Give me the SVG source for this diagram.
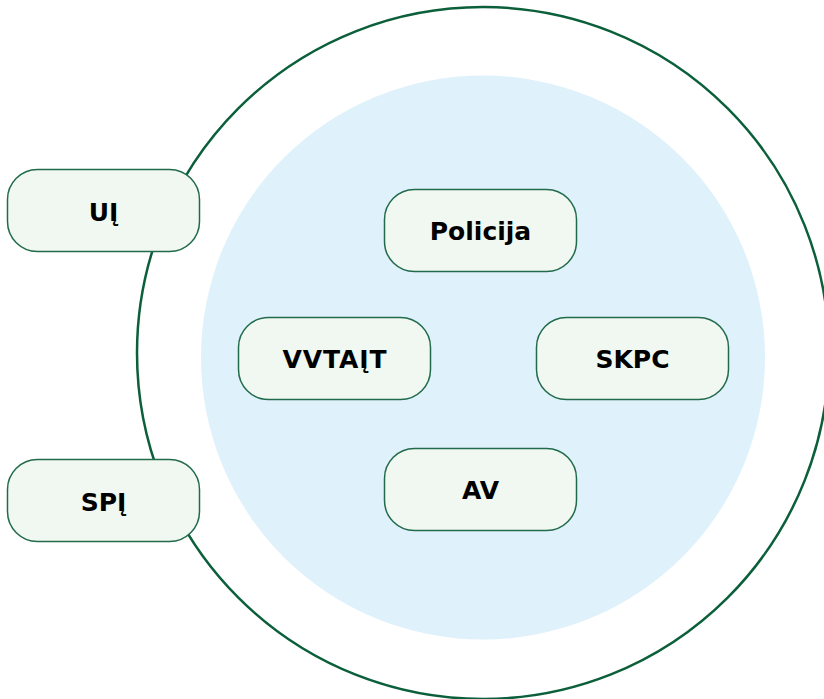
<svg xmlns="http://www.w3.org/2000/svg" width="824" height="699" viewBox="0 0 824 699">
<style>
.node rect{fill:#f1f8f2;stroke:#216b4b;stroke-width:1.5}
.node text{font-family:"DejaVu Sans","Liberation Sans",sans-serif;font-weight:700;font-size:25px;fill:#000;text-anchor:middle;dominant-baseline:central}
</style>
<rect width="824" height="699" fill="#fff"/>
<g id="outer"><circle cx="483" cy="353" r="346" fill="none" stroke="#0b5f3a" stroke-width="2.5"/></g>
<g id="inner"><circle cx="483" cy="357.5" r="282" fill="#dff1fb"/></g>
<g id="connectors"></g>
<g id="n-ui" class="node"><rect x="7.5" y="169.5" width="192" height="82" rx="30"/><text x="103.5" y="212">UĮ</text></g>
<g id="n-spi" class="node"><rect x="7.5" y="459.5" width="192" height="82" rx="30"/><text x="103.5" y="502">SPĮ</text></g>
<g id="n-policija" class="node"><rect x="384.5" y="189.5" width="192" height="82" rx="30"/><text x="480.5" y="231">Policija</text></g>
<g id="n-vvtait" class="node"><rect x="238.5" y="317.5" width="192" height="82" rx="30"/><text x="334.5" y="359" textLength="104">VVTAĮT</text></g>
<g id="n-skpc" class="node"><rect x="536.5" y="317.5" width="192" height="82" rx="30"/><text x="632.5" y="359">SKPC</text></g>
<g id="n-av" class="node"><rect x="384.5" y="448.5" width="192" height="82" rx="30"/><text x="480.5" y="490">AV</text></g>
</svg>
